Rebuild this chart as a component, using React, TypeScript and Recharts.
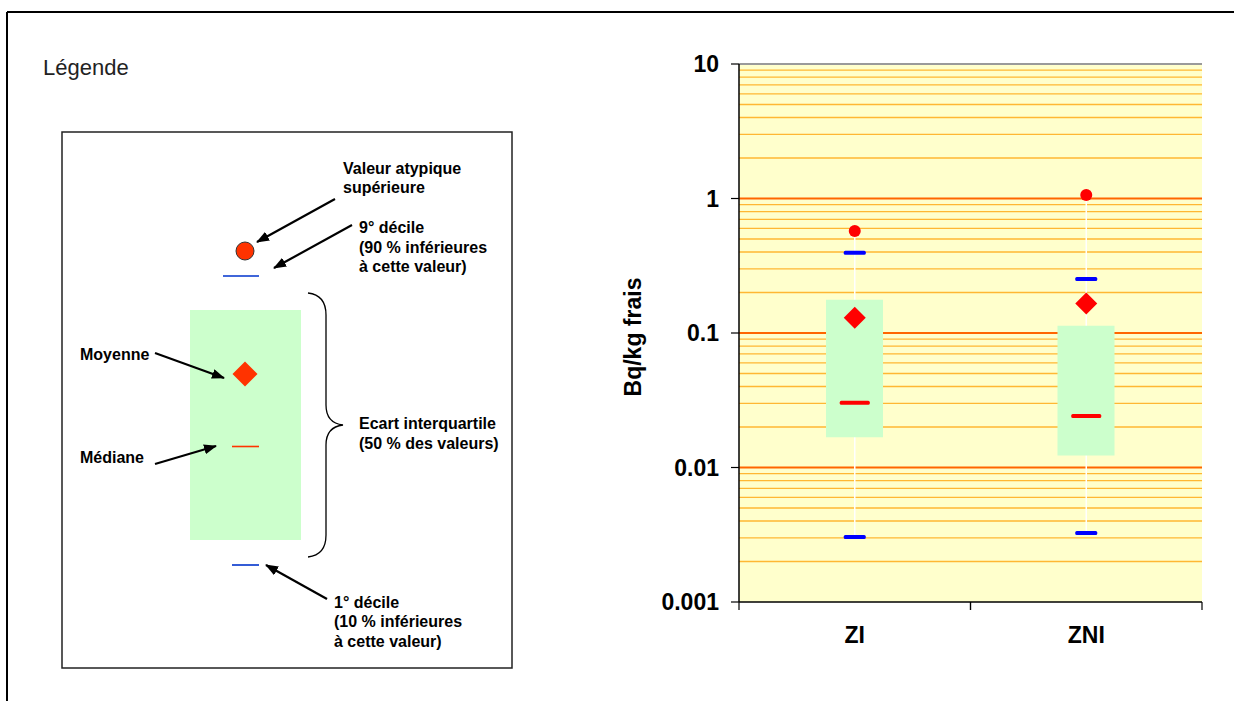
import React from 'react';
import { ComposedChart, Bar, Scatter, XAxis, YAxis, CartesianGrid, ReferenceLine } from 'recharts';

// ---- data ----
const categories = ['ZI', 'ZNI'];
const decile1 = [0.00304, 0.00326];
const quartile1 = [0.0168, 0.0123];
const medians = [0.0303, 0.0241];
const quartile3 = [0.177, 0.113];
const means = [0.13, 0.166];
const decile9 = [0.395, 0.252];
const outliers = [0.574, 1.06];

// ---- axis ticks / grid values ----
const majorTicks = [0.001, 0.01, 0.1, 1, 10];
const majorGrid = [0.01, 0.1, 1];
const decades = [0.001, 0.01, 0.1, 1];
const minorMultipliers = [2, 3, 4, 5, 6, 7, 8, 9];
const minorGrid = decades.flatMap((d) => minorMultipliers.map((m) => Number((d * m).toPrecision(3))));

const data = categories.map((cat, i) => ({
  cat,
  d1: decile1[i],
  med: medians[i],
  mean: means[i],
  d9: decile9[i],
  out: outliers[i],
  box: [quartile1[i], quartile3[i]],
  whisker: [decile1[i], outliers[i]],
}));

const FONT = '"Liberation Sans", Arial, Helvetica, sans-serif';

const CatTick = (props: any) => {
  const { x, y, payload } = props;
  const half =
    payload && typeof payload.offset === 'number' && payload.offset > 0
      ? payload.offset
      : (props.width || 463) / (props.visibleTicksCount || 2) / 2;
  return (
    <g>
      <line x1={x - half} x2={x - half} y1={y - 8} y2={y} stroke="#000" strokeWidth={1.2} />
      <line x1={x + half} x2={x + half} y1={y - 8} y2={y} stroke="#000" strokeWidth={1.2} />
      <text x={x} y={y + 33} textAnchor="middle" fontFamily={FONT} fontWeight="bold" fontSize={23} fill="#000">
        {payload.value}
      </text>
    </g>
  );
};

const YLabel = (props: any) => {
  const vb = props.viewBox || { x: 0, y: 64, width: 139, height: 538 };
  const cx = vb.x + 33;
  const cy = vb.y + vb.height / 2 + 4;
  return (
    <text
      x={cx}
      y={cy}
      transform={`rotate(-90 ${cx} ${cy})`}
      textAnchor="middle"
      dominantBaseline="central"
      fontFamily={FONT}
      fontWeight="bold"
      fontSize={23}
      fill="#000"
    >
      Bq/kg frais
    </text>
  );
};

const OutlierShape = (p: any) => <circle cx={p.cx} cy={p.cy} r={6} fill="#FF0000" />;
const MeanShape = (p: any) => (
  <polygon
    points={`${p.cx},${p.cy - 11} ${p.cx + 11},${p.cy} ${p.cx},${p.cy + 11} ${p.cx - 11},${p.cy}`}
    fill="#FF0000"
  />
);
const DecileShape = (p: any) => <rect x={p.cx - 11} y={p.cy - 2} width={22} height={4} rx={1.5} fill="#0000FF" />;
const MedianShape = (p: any) => <rect x={p.cx - 15} y={p.cy - 2} width={30} height={4} rx={1.5} fill="#FF0000" />;

const Legend = () => (
  <svg width={1234} height={701} style={{ position: 'absolute', left: 0, top: 0 }}>
    <defs>
      <marker id="ah" markerWidth="13" markerHeight="10" refX="12" refY="5" orient="auto" markerUnits="userSpaceOnUse">
        <path d="M0,0 L13,5 L0,10 z" fill="#000" />
      </marker>
    </defs>
    {/* outer frame */}
    <line x1={7} y1={12} x2={1234} y2={12} stroke="#000" strokeWidth={2} />
    <line x1={7} y1={12} x2={7} y2={701} stroke="#000" strokeWidth={2} />
    <text x={43} y={75} fontFamily={FONT} fontSize={22} fill="#222">Légende</text>
    {/* legend box */}
    <rect x={62} y={132} width={450} height={536} fill="#fff" stroke="#222" strokeWidth={1.5} />
    <rect x={190} y={310} width={111} height={230} fill="#CCFFCC" />
    <circle cx={245} cy={251} r={9} fill="#FF3300" stroke="#333" strokeWidth={1} />
    <line x1={223} x2={259} y1={276} y2={276} stroke="#0033CC" strokeWidth={1.6} />
    <polygon points="245,361.5 257.5,374 245,386.5 232.5,374" fill="#FF3300" />
    <line x1={232} x2={259} y1={446.5} y2={446.5} stroke="#FF3300" strokeWidth={1.6} />
    <line x1={232} x2={259} y1={565} y2={565} stroke="#0033CC" strokeWidth={1.6} />
    {/* brace */}
    <path
      d="M308,293 Q326,295 326,315 L326,405 Q326,423 343,425 Q326,427 326,445 L326,535 Q326,555 308,557"
      fill="none"
      stroke="#000"
      strokeWidth={1.3}
    />
    {/* arrows */}
    <g stroke="#000" strokeWidth={2.2} markerEnd="url(#ah)">
      <line x1={335} y1={199} x2={257} y2={242} />
      <line x1={352} y1={225} x2={274} y2={268} />
      <line x1={155} y1={353} x2={224} y2={378} />
      <line x1={155} y1={464} x2={216} y2={446} />
      <line x1={327} y1={599} x2={266} y2={565} />
    </g>
    <g fontFamily={FONT} fontWeight="bold" fontSize={16} fill="#000">
      <text x={343} y={174}>Valeur atypique</text>
      <text x={343} y={193}>supérieure</text>
      <text x={359} y={233}>9° décile</text>
      <text x={359} y={253}>(90 % inférieures</text>
      <text x={359} y={272}>à cette valeur)</text>
      <text x={80} y={360}>Moyenne</text>
      <text x={80} y={463}>Médiane</text>
      <text x={359} y={429}>Ecart interquartile</text>
      <text x={359} y={449}>(50 % des valeurs)</text>
      <text x={334} y={608}>1° décile</text>
      <text x={334} y={627}>(10 % inférieures</text>
      <text x={334} y={647}>à cette valeur)</text>
    </g>
  </svg>
);

export default function App() {
  return (
    <div style={{ position: 'absolute', left: 0, top: 0, width: 1234, height: 701, background: '#fff', overflow: 'hidden' }}>
      <Legend />
      <div style={{ position: 'absolute', left: 600, top: 0 }}>
        <ComposedChart width={634} height={701} data={data} margin={{ top: 64, right: 32, bottom: 39, left: 0 }}>
          <CartesianGrid horizontal={false} vertical={false} fill="#FFFFCC" />
          {minorGrid.map((v) => (
            <ReferenceLine key={'m' + v} y={v} stroke="#FFB733" strokeWidth={1.3} zIndex={-60} />
          ))}
          {majorGrid.map((v) => (
            <ReferenceLine key={'M' + v} y={v} stroke="#FF6600" strokeWidth={2} zIndex={-55} />
          ))}
          <ReferenceLine y={10} stroke="#9a9a9a" strokeWidth={2} />
          <XAxis dataKey="cat" xAxisId="w" hide />
          <XAxis
            dataKey="cat"
            height={60}
            interval={0}
            tickSize={8}
            tickMargin={0}
            tickLine={false}
            axisLine={{ stroke: '#000', strokeWidth: 1.5 }}
            tick={<CatTick />}
          />
          <YAxis
            scale="log"
            type="number"
            domain={[0.001, 10]}
            ticks={majorTicks}
            allowDataOverflow
            width={139}
            tickSize={8}
            tickMargin={12}
            axisLine={{ stroke: '#000', strokeWidth: 1.5 }}
            tickLine={{ stroke: '#000', strokeWidth: 1.2 }}
            tick={{ fill: '#000', fontSize: 23, fontWeight: 'bold', fontFamily: FONT }}
            label={{ content: (p: any) => <YLabel {...p} /> }}
          />
          <YAxis
            yAxisId="r"
            orientation="right"
            scale="log"
            type="number"
            domain={[0.001, 10]}
            allowDataOverflow
            width={0}
            tick={false}
            tickLine={false}
            axisLine={{ stroke: '#9a9a9a', strokeWidth: 2 }}
          />
          <Bar dataKey="whisker" xAxisId="w" barSize={1.5} fill="#FFFFFF" isAnimationActive={false} />
          <Bar dataKey="box" barSize={57} fill="#CCFFCC" isAnimationActive={false} />
          <Scatter dataKey="d1" shape={DecileShape} isAnimationActive={false} />
          <Scatter dataKey="d9" shape={DecileShape} isAnimationActive={false} />
          <Scatter dataKey="med" shape={MedianShape} isAnimationActive={false} />
          <Scatter dataKey="mean" shape={MeanShape} isAnimationActive={false} />
          <Scatter dataKey="out" shape={OutlierShape} isAnimationActive={false} />
        </ComposedChart>
      </div>
    </div>
  );
}
